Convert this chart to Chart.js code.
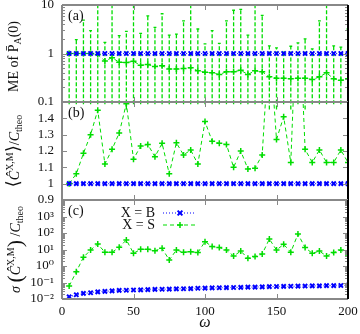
<!DOCTYPE html>
<html>
<head>
<meta charset="utf-8">
<script src="https://cdn.jsdelivr.net/npm/chart.js@4.4.1/dist/chart.umd.min.js"></script>
<style>
  html, body { margin: 0; padding: 0; background: #fff; }
  #wrap { position: relative; width: 360px; height: 334px; }
  #wrap canvas { position: absolute; left: 0; top: 0; }
</style>
</head>
<body>
<div id="wrap">
  <canvas id="pa" width="360" height="334"></canvas>
  <canvas id="pb" width="360" height="334"></canvas>
  <canvas id="pc" width="360" height="334"></canvas>
</div>
<script>
// omega values (x)
const omega = [5, 10, 15, 20, 25, 30, 35, 40, 45, 50, 55, 60, 65, 70, 75, 80, 85, 90, 95, 100,
  105, 110, 115, 120, 125, 130, 135, 140, 145, 150, 155, 160, 165, 170, 175, 180, 185, 190, 195, 200];

// (a) ME of P_A(0)
const meB = [1, 1, 1, 1, 1, 1, 1, 1, 1, 1, 1, 1, 1, 1, 1, 1, 1, 1, 1, 1,
  1, 1, 1, 1, 1, 1, 1, 1, 1, 1, 1, 1, 1, 1, 1, 1, 1, 1, 1, 1];
const meS = [1.0, 1.0, 1.0, 1.0, 0.95, 0.70, 0.82, 0.66, 0.65, 0.69, 0.57, 0.59, 0.54, 0.56, 0.48, 0.48,
  0.49, 0.51, 0.44, 0.41, 0.40, 0.37, 0.42, 0.42, 0.45, 0.37, 0.44, 0.42, 0.33, 0.31, 0.31, 0.30,
  0.31, 0.31, 0.29, 0.33, 0.40, 0.30, 0.28, 0.30];
const meSUp = [1.05, 1.93, 4.9, 2.95, 20, 1.7, 20, 2.33, 2.85, 20, 2.6, 5.96, 3.45, 6.6, 2.4, 2.5,
  4.7, 20, 3.2, 1.58, 2.95, 1.62, 4.7, 7.8, 8.1, 2.4, 20, 6.1, 1.43, 1.3, 1.06, 1.41,
  1.65, 2.0, 1.25, 4.7, 20, 1.43, 1.35, 3.2];
const meSLow = [0.09, 0.09, 0.09, 0.09, 0.09, 0.09, 0.09, 0.09, 0.07, 0.09, 0.09, 0.09, 0.09, 0.09, 0.09, 0.09,
  0.09, 0.09, 0.09, 0.09, 0.09, 0.09, 0.09, 0.09, 0.09, 0.09, 0.09, 0.09, 0.07, 0.07, 0.09, 0.07,
  0.09, 0.07, 0.09, 0.09, 0.09, 0.09, 0.09, 0.09];

// (b) <C>/C_theo
const ratioB = [1, 1, 1, 1, 1, 1, 1, 1, 1, 1, 1, 1, 1, 1, 1, 1, 1, 1, 1, 1,
  1, 1, 1, 1, 1, 1, 1, 1, 1, 1, 1, 1, 1, 1, 1, 1, 1, 1, 1, 1];
const ratioS = [1.00, 1.06, 1.186, 1.30, 1.45, 1.12, 1.21, 1.31, 1.49, 1.15, 1.23, 1.24, 1.165,
  1.247, 1.06, 1.25, 1.176, 1.206, 1.12, 1.38, 1.26, 1.247, 1.24, 1.10, 1.20, 1.09,
  1.095, 1.176, 1.9, 1.27, 1.41, 1.13, 2.25, 1.21, 1.13, 1.206, 1.13, 1.13, 1.206, 1.13];

// (c) sigma(C)/C_theo
const sigmaB = [0.0135, 0.018, 0.022, 0.024, 0.027, 0.029, 0.031, 0.033, 0.034, 0.035, 0.036, 0.037, 0.038,
  0.039, 0.040, 0.041, 0.042, 0.043, 0.045, 0.046, 0.047, 0.048, 0.049, 0.050, 0.051, 0.052,
  0.053, 0.054, 0.056, 0.057, 0.058, 0.059, 0.060, 0.061, 0.062, 0.063, 0.064, 0.065, 0.066, 0.068];
const sigmaS = [0.061, 0.45, 3.4, 9.3, 21.5, 6.8, 6.8, 13.5, 38, 5.9, 10.2, 10.2, 8.5, 11.8, 2.3, 9.3,
  6.8, 7.4, 6.5, 30, 15, 13, 9.3, 4, 8, 2.9, 3.7, 5.3, 43, 9.3, 20.5, 6.8, 87, 13, 5.9, 8, 4, 6.5, 9.3, 4.6];

// tick labels
const ticksA = [0.1, 1, 10];
const ticksB = [0.9, 1, 1.1, 1.2, 1.3, 1.4];
const ticksC = [0.01, 0.1, 1, 10, 100, 1000];
const labelsC = ['10\u207B\u00B2', '10\u207B\u00B9', '10\u2070', '10\u00B9', '10\u00B2', '10\u00B3'];

const SERIF = "'Liberation Serif', 'DejaVu Serif', serif";
const BLUE = '#0000ff';
const GREEN = '#00dd00';

function pts(ys) {
  return omega.map((w, i) => ({ x: w, y: ys[i] }));
}

// error bars as broken line segments (null breaks the line)
function errSegments(up, low) {
  const out = [];
  omega.forEach((w, i) => {
    out.push({ x: w, y: low[i] }, { x: w, y: up[i] }, { x: w, y: null });
    out.push({ x: w - 1, y: up[i] }, { x: w + 1, y: up[i] }, { x: w, y: null });
  });
  return out;
}

function logMinors(decades) {
  const m = [];
  decades.forEach(d => { for (let k = 2; k <= 9; k++) m.push(d * k); });
  return m;
}

function drawRich(ctx, cx, cy, parts, size) {
  ctx.save();
  ctx.translate(cx, cy);
  ctx.rotate(-Math.PI / 2);
  ctx.fillStyle = '#111';
  ctx.textBaseline = 'alphabetic';
  ctx.textAlign = 'left';
  const fontOf = p => `${p.it ? 'italic ' : ''}${Math.round(size * (p.s || 1))}px ${SERIF}`;
  let w = 0;
  for (const p of parts) { ctx.font = fontOf(p); w += ctx.measureText(p.t).width; }
  let x = -w / 2;
  for (const p of parts) {
    ctx.font = fontOf(p);
    ctx.fillText(p.t, x, size * 0.35 + (p.dy || 0) * size);
    x += ctx.measureText(p.t).width;
  }
  ctx.restore();
}

function marker(ctx, style, x, y, r) {
  ctx.beginPath();
  if (style === 'cross') {
    ctx.moveTo(x - r, y); ctx.lineTo(x + r, y);
    ctx.moveTo(x, y - r); ctx.lineTo(x, y + r);
  } else {
    const d = r * 0.8;
    ctx.moveTo(x - d, y - d); ctx.lineTo(x + d, y + d);
    ctx.moveTo(x - d, y + d); ctx.lineTo(x + d, y - d);
  }
  ctx.stroke();
}

// border + inward ticks, gnuplot style
const framePlugin = {
  id: 'frame',
  afterDatasetsDraw(chart, args, o) {
    const { ctx, chartArea: a, scales: { x, y } } = chart;
    const seg = (x1, y1, x2, y2) => { ctx.beginPath(); ctx.moveTo(x1, y1); ctx.lineTo(x2, y2); ctx.stroke(); };
    ctx.save();
    ctx.strokeStyle = '#888';
    ctx.lineWidth = 1;
    [50, 100, 150].forEach(v => {
      const px = Math.round(x.getPixelForValue(v)) + 0.5;
      seg(px, a.top, px, a.top + 5);
      seg(px, a.bottom, px, a.bottom - 5);
    });
    o.major.forEach(v => {
      const py = Math.round(y.getPixelForValue(v)) + 0.5;
      seg(a.left, py, a.left + 5, py);
      seg(a.right, py, a.right - 5, py);
    });
    (o.minor || []).forEach(v => {
      const py = Math.round(y.getPixelForValue(v)) + 0.5;
      seg(a.left, py, a.left + 3, py);
      seg(a.right, py, a.right - 3, py);
    });
    ctx.lineWidth = 2;
    seg(a.left, a.top, a.right, a.top);
    seg(a.left, a.bottom, a.right, a.bottom);
    seg(a.left, a.top, a.left, a.bottom);
    ctx.strokeStyle = '#000';
    seg(a.right, a.top, a.right, a.bottom);
    ctx.restore();
  }
};

const titlePlugin = {
  id: 'richTitle',
  afterDraw(chart, args, o) {
    const { ctx, chartArea: a } = chart;
    drawRich(ctx, o.x, (a.top + a.bottom) / 2 + (o.dy || 0), o.parts, 14);
    ctx.save();
    ctx.font = `14px ${SERIF}`;
    ctx.fillStyle = '#111';
    ctx.textAlign = 'left';
    ctx.textBaseline = 'middle';
    ctx.fillText(o.label, a.left + 6, a.top + 11);
    ctx.restore();
  }
};

const legendPlugin = {
  id: 'sampleLegend',
  afterDraw(chart, args, o) {
    if (!o.items) return;
    const ctx = chart.ctx;
    o.items.forEach((it, k) => {
      const ds = chart.data.datasets[it.ds];
      const y = o.y + k * o.gap;
      ctx.save();
      ctx.font = `14px ${SERIF}`;
      ctx.fillStyle = '#111';
      ctx.textAlign = 'right';
      ctx.textBaseline = 'middle';
      ctx.fillText(it.text, o.x, y);
      ctx.strokeStyle = ds.borderColor;
      ctx.lineWidth = ds.borderWidth;
      ctx.setLineDash(ds.borderDash);
      ctx.beginPath(); ctx.moveTo(o.x + 8, y); ctx.lineTo(o.x + 40, y); ctx.stroke();
      ctx.setLineDash([]);
      ctx.lineWidth = ds.pointBorderWidth;
      marker(ctx, ds.pointStyle, o.x + 25, y, ds.pointRadius);
      ctx.restore();
    });
  }
};

function seriesB(ys) {
  return {
    data: pts(ys), borderColor: BLUE, borderWidth: 1, borderDash: [1, 2],
    pointStyle: 'crossRot', pointRadius: 3, pointBorderWidth: 2,
    pointBorderColor: BLUE, pointBackgroundColor: BLUE
  };
}
function seriesS(ys) {
  return {
    data: pts(ys), borderColor: GREEN, borderWidth: 1, borderDash: [4, 3],
    pointStyle: 'cross', pointRadius: 3, pointBorderWidth: 1.5,
    pointBorderColor: GREEN, pointBackgroundColor: GREEN
  };
}

const tickFont = { family: SERIF, size: 13 };

function yAxis(type, min, max, ticks, labelOf) {
  return {
    type: type, min: min, max: max,
    afterBuildTicks: s => { s.ticks = ticks.map(v => ({ value: v })); },
    afterFit: s => { s.width = 62; s.paddingTop = 0; s.paddingBottom = 0; },
    ticks: { font: tickFont, color: '#111', padding: 8, callback: v => labelOf(v) },
    grid: { display: false, drawTicks: false },
    border: { display: false }
  };
}

function makeChart(id, datasets, pad, yScale, xScale, pluginOpts) {
  return new Chart(document.getElementById(id), {
    type: 'line',
    data: { datasets: datasets },
    options: {
      responsive: false,
      animation: false,
      devicePixelRatio: 1,
      events: [],
      layout: { padding: pad, autoPadding: false },
      scales: { x: xScale, y: yScale },
      plugins: Object.assign({ legend: { display: false }, tooltip: { enabled: false } }, pluginOpts)
    },
    plugins: [framePlugin, titlePlugin, legendPlugin]
  });
}

const hiddenX = { type: 'linear', min: 0, max: 200, display: false };

// (a)
makeChart('pa', [
  seriesB(meB),
  seriesS(meS),
  { data: errSegments(meSUp, meSLow), borderColor: GREEN, borderWidth: 1.3, borderDash: [4, 2],
    pointRadius: 0, clip: { left: 0, top: 0, right: 0, bottom: 10 } }
], { top: 5, bottom: 232, left: 0, right: 12 },
  yAxis('logarithmic', 0.1, 10, ticksA, v => String(v)),
  hiddenX,
  {
    frame: { major: ticksA, minor: logMinors([0.1, 1]) },
    richTitle: { x: 13, dy: 3, label: '(a)',
      parts: [{ t: 'ME of ' }, { t: 'P\u0304' }, { t: 'A', s: 0.7, dy: 0.25 }, { t: '(0)' }] }
  });

// (b)
makeChart('pb', [seriesB(ratioB), seriesS(ratioS)],
  { top: 102, bottom: 134, left: 0, right: 12 },
  yAxis('linear', 0.9, 1.5, ticksB, v => String(v)),
  hiddenX,
  {
    frame: { major: [0.9, 1, 1.1, 1.2, 1.3, 1.4, 1.5] },
    richTitle: { x: 14, label: '(b)',
      parts: [{ t: '\u27E8', s: 1.3 }, { t: 'C\u0302', it: true }, { t: 'X,M', s: 0.7, dy: -0.45 },
        { t: '\u27E9', s: 1.3 }, { t: '/' }, { t: 'C', it: true }, { t: 'theo', s: 0.7, dy: 0.25 }] }
  });

// (c)
makeChart('pc', [seriesB(sigmaB), seriesS(sigmaS)],
  { top: 200, bottom: 0, left: 0, right: 12 },
  yAxis('logarithmic', 0.01, 10000, ticksC, v => labelsC[ticksC.indexOf(v)] || ''),
  {
    type: 'linear', min: 0, max: 200,
    afterFit: s => { s.height = 35; s.paddingLeft = 0; s.paddingRight = 0; },
    ticks: { stepSize: 50, font: tickFont, color: '#111', padding: 5, maxRotation: 0 },
    grid: { display: false, drawTicks: false },
    border: { display: false },
    title: { display: true, text: '\u03C9', color: '#111',
      font: { family: SERIF, size: 16, style: 'italic' }, padding: { top: 0, bottom: 2 } }
  },
  {
    frame: { major: [0.01, 0.1, 1, 10, 100, 1000, 10000], minor: logMinors([0.01, 0.1, 1, 10, 100, 1000]) },
    richTitle: { x: 15, label: '(c)',
      parts: [{ t: '\u03C3 ', it: true }, { t: '(', s: 1.6, dy: 0.12 }, { t: 'C\u0302', it: true },
        { t: 'X,M', s: 0.7, dy: -0.45 }, { t: ')', s: 1.6, dy: 0.12 }, { t: ' /' },
        { t: 'C', it: true }, { t: 'theo', s: 0.7, dy: 0.25 }] },
    sampleLegend: { x: 155, y: 213, gap: 12,
      items: [{ text: 'X = B', ds: 0 }, { text: 'X = S', ds: 1 }] }
  });
</script>
</body>
</html>
